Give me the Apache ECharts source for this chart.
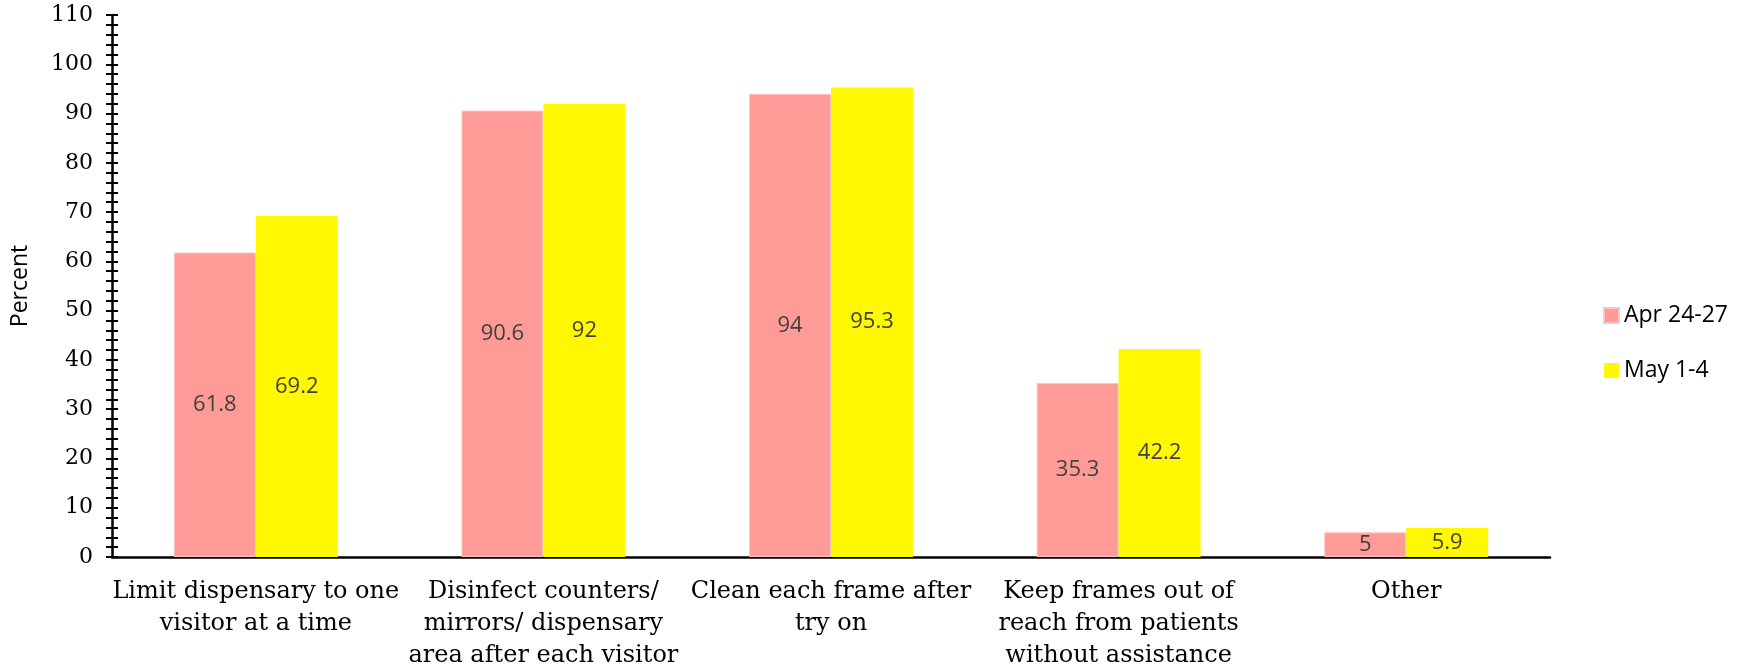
<!DOCTYPE html>
<html>
<head>
<meta charset="utf-8">
<script src="https://cdn.jsdelivr.net/npm/echarts@6/dist/echarts.min.js"></script>
<style>html,body{margin:0;padding:0;background:#fff;}#c{width:1742px;height:672px;}</style>
</head>
<body>
<div id="c"></div>
<script>
const categories = [
  "Limit dispensary to one\nvisitor at a time",
  "Disinfect counters/\nmirrors/ dispensary\narea after each visitor",
  "Clean each frame after\ntry on",
  "Keep frames out of\nreach from patients\nwithout assistance",
  "Other"
];
const seriesNames = ["Apr 24-27", "May 1-4"];
const aprValues = [61.8, 90.6, 94, 35.3, 5];
const mayValues = [69.2, 92, 95.3, 42.2, 5.9];
const yAxisName = "Percent";

const chart = echarts.init(document.getElementById('c'), null, {renderer: 'canvas'});
const serifFont = "DejaVu Serif";
const sansFont = "Open Sans";
const labelStyle = {show: true, position: 'inside', color: '#404040', fontFamily: sansFont, fontSize: 22};
const tickCommon = {min: 0, max: 110, interval: 10};
chart.setOption({
  animation: false,
  backgroundColor: '#fff',
  grid: {left: 112, right: 192, top: 15, bottom: 109, containLabel: false},
  legend: {
    orient: 'vertical', left: 1598, top: 299, itemWidth: 15, itemHeight: 15, itemGap: 32,
    textStyle: {fontFamily: sansFont, fontSize: 23, color: '#000'},
    icon: 'rect', data: seriesNames
  },
  xAxis: {
    type: 'category', data: categories,
    axisLine: {lineStyle: {color: '#000', width: 2.5}},
    axisTick: {show: false},
    axisLabel: {fontFamily: serifFont, fontSize: 24, color: '#000', margin: 19, lineHeight: 32, interval: 0}
  },
  yAxis: [
    Object.assign({
      type: 'value', name: yAxisName, nameLocation: 'middle', nameGap: 80,
      nameTextStyle: {fontFamily: sansFont, fontSize: 23, color: '#000'},
      axisLine: {show: true, lineStyle: {color: '#000', width: 2.5}},
      axisTick: {show: true, inside: false, length: 6, lineStyle: {color: '#000', width: 2}},
      minorTick: {show: true, splitNumber: 5, length: 6, lineStyle: {color: '#000', width: 2}},
      splitLine: {show: false},
      axisLabel: {fontFamily: serifFont, fontSize: 22, color: '#000', margin: 19}
    }, tickCommon),
    Object.assign({
      type: 'value', position: 'left', offset: 0,
      axisLine: {show: false},
      axisTick: {show: true, inside: true, length: 6, lineStyle: {color: '#000', width: 2}},
      minorTick: {show: true, splitNumber: 5, length: 6, lineStyle: {color: '#000', width: 2}},
      splitLine: {show: false},
      axisLabel: {show: false}
    }, tickCommon)
  ],
  series: [
    {name: seriesNames[0], type: 'bar', data: aprValues, yAxisIndex: 0, barGap: '0%', barCategoryGap: '43%',
     itemStyle: {color: '#FF9B96', borderColor: '#FFC4C1', borderWidth: 1}, label: labelStyle},
    {name: seriesNames[1], type: 'bar', data: mayValues, yAxisIndex: 0, barGap: '0%', barCategoryGap: '43%',
     itemStyle: {color: '#FFF800'}, label: labelStyle}
  ]
});
</script>
</body>
</html>
